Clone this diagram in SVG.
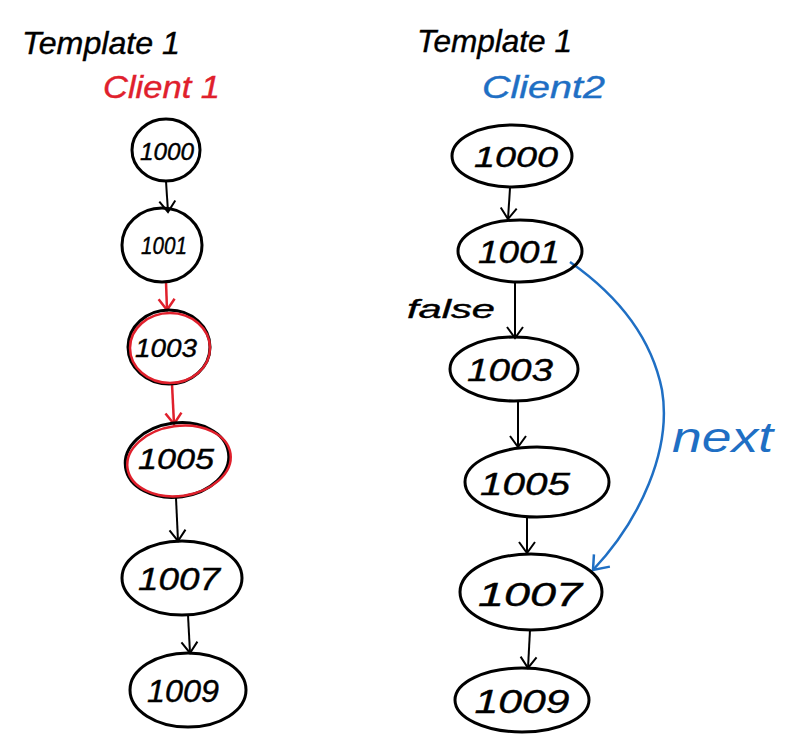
<svg xmlns="http://www.w3.org/2000/svg" width="809" height="756" viewBox="0 0 809 756">
<style>
.bg{fill:#fff}
.n{fill:none;stroke:#000;stroke-width:3}
.nr{fill:none;stroke:#e0202c;stroke-width:2.5}
.t{font-family:"Liberation Sans",Arial,sans-serif;font-style:italic;font-size:26px;fill:#000;text-anchor:middle;stroke:#000;stroke-width:0.4}
.h{font-family:"Liberation Sans",Arial,sans-serif;font-style:italic;font-size:32px;fill:#000;stroke:#000;stroke-width:0.4}
.c{stroke:#000;stroke-width:2;fill:none;marker-end:url(#ak)}
.cr{stroke:#e0202c;stroke-width:2.5;fill:none;marker-end:url(#ar)}
.cb{stroke:#1f6fc4;stroke-width:2.5;fill:none;marker-end:url(#ab)}
</style>
<defs>
<marker id="ak" viewBox="0 0 20 20" refX="18" refY="10" markerWidth="20" markerHeight="20" markerUnits="userSpaceOnUse" orient="auto">
<polyline points="7,2 18,10 7,18" fill="none" stroke="#000" stroke-width="2"/>
</marker>
<marker id="ar" viewBox="0 0 20 20" refX="18" refY="10" markerWidth="20" markerHeight="20" markerUnits="userSpaceOnUse" orient="auto">
<polyline points="7,2 18,10 7,18" fill="none" stroke="#e0202c" stroke-width="2.5"/>
</marker>
<marker id="ab" viewBox="0 0 24 24" refX="22" refY="12" markerWidth="24" markerHeight="24" markerUnits="userSpaceOnUse" orient="auto">
<polyline points="8,2 22,12 10,22" fill="none" stroke="#1f6fc4" stroke-width="2.5"/>
</marker>
</defs>
<rect class="bg" x="0" y="0" width="809" height="756"/>

<g id="headers">
<text class="h" x="22" y="54" textLength="158" lengthAdjust="spacingAndGlyphs">Template 1</text>
<text class="h" x="103" y="98" textLength="117" lengthAdjust="spacingAndGlyphs" style="fill:#e0202c;stroke:#e0202c">Client 1</text>
<text class="h" x="417" y="52" textLength="155" lengthAdjust="spacingAndGlyphs">Template 1</text>
<text class="h" x="482" y="98" textLength="123" lengthAdjust="spacingAndGlyphs" style="fill:#1f6fc4;stroke:#1f6fc4">Client2</text>
</g>

<g id="connectors">
<line class="c" x1="166" y1="181" x2="168" y2="212"/>
<line class="cr" x1="166" y1="282" x2="167" y2="310"/>
<line class="cr" x1="172" y1="384" x2="174" y2="424"/>
<line class="c" x1="176" y1="498" x2="178" y2="541"/>
<line class="c" x1="188" y1="615" x2="190" y2="653"/>
<line class="c" x1="510" y1="188" x2="508" y2="219"/>
<line class="c" x1="515" y1="282" x2="515" y2="338"/>
<line class="c" x1="518" y1="401" x2="518" y2="447"/>
<line class="c" x1="527" y1="517" x2="527" y2="553"/>
<line class="c" x1="530" y1="630" x2="528" y2="668"/>
<path class="cb" d="M570,262 C610,290 650,330 662,390 C672,450 640,520 593,570"/>
<text x="672" y="452" style="font-family:'Liberation Sans',Arial,sans-serif;font-style:italic;font-size:42px;fill:#1f6fc4" textLength="101" lengthAdjust="spacingAndGlyphs">next</text>
<text x="407" y="318" style="font-family:'Liberation Sans',Arial,sans-serif;font-style:italic;font-size:26px;fill:#000;stroke:#000;stroke-width:0.4" textLength="88" lengthAdjust="spacingAndGlyphs">false</text>
</g>

<g id="l1000"><ellipse class="n" cx="166" cy="150" rx="34" ry="31"/><text class="t" x="167" y="160" style="font-size:24px" textLength="54" lengthAdjust="spacingAndGlyphs">1000</text></g>
<g id="l1001"><ellipse class="n" cx="162" cy="245" rx="40" ry="37"/><text class="t" x="164" y="254" style="font-size:24px" textLength="46" lengthAdjust="spacingAndGlyphs">1001</text></g>
<g id="l1003"><ellipse class="n" cx="169" cy="347" rx="41" ry="37"/><ellipse class="nr" cx="170" cy="348" rx="40" ry="35"/><text class="t" x="166" y="357" style="font-size:26px" textLength="62" lengthAdjust="spacingAndGlyphs">1003</text></g>
<g id="l1005"><ellipse class="n" cx="177" cy="460" rx="52" ry="37" transform="rotate(-8 177 460)"/><ellipse class="nr" cx="179" cy="461" rx="52" ry="35" transform="rotate(-8 179 461)"/><text class="t" x="176" y="469" style="font-size:30px" textLength="76" lengthAdjust="spacingAndGlyphs">1005</text></g>
<g id="l1007"><ellipse class="n" cx="182" cy="578" rx="60" ry="37"/><text class="t" x="179" y="590" style="font-size:32px" textLength="82" lengthAdjust="spacingAndGlyphs">1007</text></g>
<g id="l1009"><ellipse class="n" cx="188" cy="690" rx="58" ry="37"/><text class="t" x="183" y="702" style="font-size:32px" textLength="72" lengthAdjust="spacingAndGlyphs">1009</text></g>

<g id="r1000"><ellipse class="n" cx="512" cy="156" rx="60" ry="31"/><text class="t" x="516" y="167" style="font-size:30px" textLength="84" lengthAdjust="spacingAndGlyphs">1000</text></g>
<g id="r1001"><ellipse class="n" cx="520" cy="251" rx="62" ry="31"/><text class="t" x="519" y="263" style="font-size:32px" textLength="82" lengthAdjust="spacingAndGlyphs">1001</text></g>
<g id="r1003"><ellipse class="n" cx="514" cy="369" rx="64" ry="32"/><text class="t" x="510" y="381" style="font-size:32px" textLength="86" lengthAdjust="spacingAndGlyphs">1003</text></g>
<g id="r1005"><ellipse class="n" cx="537" cy="482" rx="72" ry="35"/><text class="t" x="525" y="495" style="font-size:32px" textLength="90" lengthAdjust="spacingAndGlyphs">1005</text></g>
<g id="r1007"><ellipse class="n" cx="531" cy="592" rx="71" ry="38"/><text class="t" x="530" y="606" style="font-size:34px" textLength="104" lengthAdjust="spacingAndGlyphs">1007</text></g>
<g id="r1009"><ellipse class="n" cx="522" cy="700" rx="67" ry="32"/><text class="t" x="522" y="713" style="font-size:34px" textLength="95" lengthAdjust="spacingAndGlyphs">1009</text></g>
</svg>
